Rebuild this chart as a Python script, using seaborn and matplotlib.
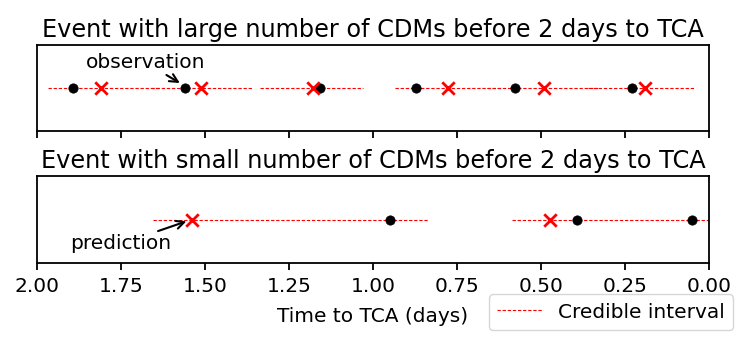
import matplotlib
matplotlib.use("Agg")
import matplotlib.pyplot as plt
import seaborn as sns
from matplotlib.lines import Line2D

# Top panel: event with many CDMs
top_obs_t = [1.893, 1.560, 1.158, 0.872, 0.577, 0.229]
top_pred_t = [1.810, 1.512, 1.179, 0.777, 0.491, 0.190]
top_ci_lo = [1.967, 1.660, 1.336, 0.935, 0.660, 0.360]
top_ci_hi = [1.640, 1.360, 1.030, 0.620, 0.330, 0.042]

# Bottom panel: event with few CDMs
bot_obs_t = [0.949, 0.393, 0.051]
bot_pred_t = [1.539, 0.473]
bot_ci_lo = [1.655, 0.586]
bot_ci_hi = [0.836, -0.050]

xticks = [2.00, 1.75, 1.50, 1.25, 1.00, 0.75, 0.50, 0.25, 0.00]
titles = ["Event with large number of CDMs before 2 days to TCA",
          "Event with small number of CDMs before 2 days to TCA"]

sns.set_style("ticks")
plt.rcParams['font.family'] = ['DejaVu Sans']
plt.rcParams['axes.linewidth'] = 1.3
plt.rcParams['xtick.major.width'] = 1.3
plt.rcParams['xtick.major.size'] = 5
plt.rcParams['text.color'] = 'black'
plt.rcParams['axes.labelcolor'] = 'black'
plt.rcParams['xtick.color'] = 'black'
plt.rcParams['axes.edgecolor'] = 'black'

fig = plt.figure(figsize=(7.48, 3.46), dpi=100)
ax1 = fig.add_axes([0.049, 0.621, 0.899, 0.249])
ax2 = fig.add_axes([0.049, 0.240, 0.899, 0.251], sharex=ax1)

def draw(ax, obs, pred, lo, hi, title):
    for a, b in zip(lo, hi):
        ax.plot([a, b], [0, 0], color='red', ls='--', lw=0.8, dashes=(3, 1.6), zorder=1)
    sns.scatterplot(x=obs, y=[0] * len(obs), ax=ax, color='black', marker='o',
                    s=45, edgecolor='black', linewidth=0.5, zorder=3, legend=False)
    sns.scatterplot(x=pred, y=[0] * len(pred), ax=ax, color='red', marker='x',
                    s=80, linewidth=2, zorder=4, legend=False)
    ax.set_ylim(-1, 1)
    ax.set_yticks([])
    ax.set_title(title, fontsize=17.3, pad=6, color='black')

draw(ax1, top_obs_t, top_pred_t, top_ci_lo, top_ci_hi, titles[0])
draw(ax2, bot_obs_t, bot_pred_t, bot_ci_lo, bot_ci_hi, titles[1])

ax1.set_xlim(2.0, 0.0)
ax2.set_xticks(xticks)
ax2.set_xticklabels([f"{t:.2f}" for t in xticks], fontsize=14.5)
ax2.tick_params(axis='x', pad=5)
ax1.tick_params(labelbottom=False)
ax2.set_xlabel("Time to TCA (days)", fontsize=14.5, labelpad=8)

ax1.annotate("observation", xy=(top_obs_t[1], 0.05), xytext=(1.855, 0.6),
             fontsize=14.5, ha='left', va='center',
             arrowprops=dict(arrowstyle='->', color='black', lw=1.5,
                             shrinkA=0, shrinkB=4))
ax2.annotate("prediction", xy=(bot_pred_t[0], 0.0), xytext=(1.90, -0.56),
             fontsize=14.5, ha='left', va='center',
             arrowprops=dict(arrowstyle='->', color='black', lw=1.5,
                             shrinkA=0, shrinkB=4))

h = [Line2D([0], [0], color='red', ls='--', lw=0.8, dashes=(3, 1.6))]
fig.legend(h, ["Credible interval"], loc='upper right', bbox_to_anchor=(0.993, 0.178),
           fontsize=14.5, frameon=True, handlelength=2.2)

fig.savefig("out.png", dpi=100)
